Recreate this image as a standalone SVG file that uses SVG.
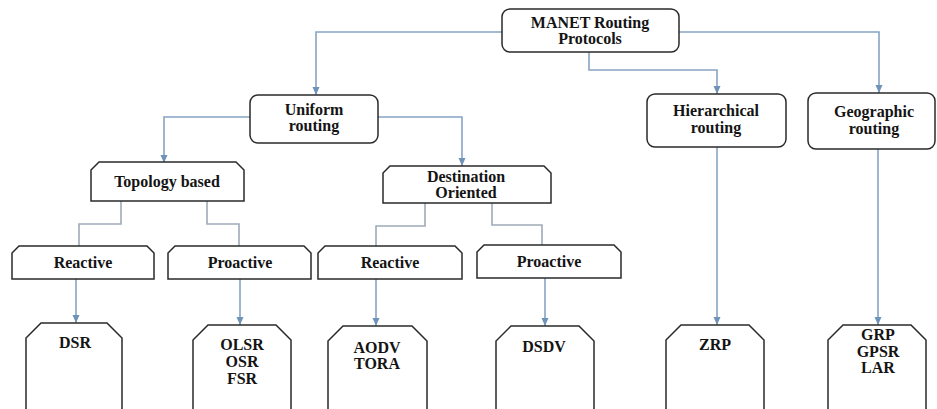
<svg xmlns="http://www.w3.org/2000/svg" width="937" height="409" viewBox="0 0 937 409">
  <defs>
    <marker id="arrow" viewBox="0 0 8 8" refX="8" refY="4" markerWidth="8" markerHeight="8" markerUnits="userSpaceOnUse" orient="auto">
      <path d="M0,0.5 L8,4 L0,7.5 Z" fill="#6f93b8"/>
    </marker>
    <style>
      .box { fill: #ffffff; stroke: #2a2a2a; stroke-width: 1.5; }
      .lbl { font-weight: bold; font-size: 16px; fill: #141414; text-anchor: middle; }
      .wire { fill: none; stroke: #86a4c4; stroke-width: 1.6; }
      .wire.arr { marker-end: url(#arrow); }
      .wire.plain { stroke: #9eabb9; }
    </style>
  </defs>
  <rect width="937" height="409" fill="#ffffff"/>

  <!-- connectors -->
  <g id="connectors">
    <path class="wire arr" d="M502,32 H316 V95"/>
    <path class="wire arr" d="M589,52 V70 H717 V94"/>
    <path class="wire arr" d="M679,32 H879 V93"/>
    <path class="wire arr" d="M250,117 H164 V163"/>
    <path class="wire arr" d="M378,117 H462 V166"/>
    <path class="wire plain" d="M121,201 V224 H79 V246"/>
    <path class="wire plain" d="M207,201 V224 H239 V246"/>
    <path class="wire plain" d="M425,203 V226 H376 V246"/>
    <path class="wire plain" d="M492,203 V225 H542 V245"/>
    <path class="wire arr" d="M76,279 V323"/>
    <path class="wire arr" d="M240,279 V325"/>
    <path class="wire arr" d="M376,279 V326"/>
    <path class="wire arr" d="M545,278 V326"/>
    <path class="wire arr" d="M717,147 V325"/>
    <path class="wire arr" d="M878,149 V325"/>
  </g>

  <g font-family="Liberation Serif, Times New Roman, serif">
  <!-- root -->
  <g id="manet">
    <rect class="box" x="502" y="9" width="177" height="43" rx="8"/>
    <text class="lbl" x="590" y="28">MANET Routing</text>
    <text class="lbl" x="590" y="44">Protocols</text>
  </g>

  <!-- second level -->
  <g id="uniform">
    <rect class="box" x="250" y="95" width="128" height="48" rx="8"/>
    <text class="lbl" x="314" y="115">Uniform</text>
    <text class="lbl" x="314" y="131">routing</text>
  </g>
  <g id="hierarchical">
    <rect class="box" x="647" y="94" width="139" height="53" rx="8"/>
    <text class="lbl" x="716" y="116">Hierarchical</text>
    <text class="lbl" x="716" y="133">routing</text>
  </g>
  <g id="geographic">
    <rect class="box" x="808" y="93" width="127" height="56" rx="8"/>
    <text class="lbl" x="874" y="117">Geographic</text>
    <text class="lbl" x="874" y="134">routing</text>
  </g>

  <!-- third level -->
  <g id="topology">
    <path class="box" d="M91,201 V170 L99,162 H236 L244,170 V201 Z"/>
    <text class="lbl" x="167" y="187">Topology based</text>
  </g>
  <g id="destination">
    <path class="box" d="M383,203 V173 L390,166 H544 L551,173 V203 Z"/>
    <text class="lbl" x="466" y="182">Destination</text>
    <text class="lbl" x="466" y="198">Oriented</text>
  </g>

  <!-- fourth level -->
  <g id="reactive-topo">
    <path class="box" d="M12,279 V253 L19,246 H147 L154,253 V279 Z"/>
    <text class="lbl" x="83" y="268">Reactive</text>
  </g>
  <g id="proactive-topo">
    <path class="box" d="M168,279 V253 L175,246 H304 L311,253 V279 Z"/>
    <text class="lbl" x="240" y="268">Proactive</text>
  </g>
  <g id="reactive-dest">
    <path class="box" d="M318,279 V253 L325,246 H455 L462,253 V279 Z"/>
    <text class="lbl" x="390" y="268">Reactive</text>
  </g>
  <g id="proactive-dest">
    <path class="box" d="M477,278 V252 L484,245 H614 L621,252 V278 Z"/>
    <text class="lbl" x="549" y="267">Proactive</text>
  </g>

  <!-- protocol leaves -->
  <g id="dsr">
    <path class="box" d="M26,415 V338 L41,323 H107 L122,338 V415"/>
    <text class="lbl" x="75" y="348">DSR</text>
  </g>
  <g id="olsr">
    <path class="box" d="M193,415 V340 L208,325 H276 L291,340 V415"/>
    <text class="lbl" x="242" y="350">OLSR</text>
    <text class="lbl" x="242" y="367">OSR</text>
    <text class="lbl" x="242" y="384">FSR</text>
  </g>
  <g id="aodv">
    <path class="box" d="M328,415 V341 L343,326 H412 L427,341 V415"/>
    <text class="lbl" x="377" y="353">AODV</text>
    <text class="lbl" x="377" y="369">TORA</text>
  </g>
  <g id="dsdv">
    <path class="box" d="M496,415 V341 L511,326 H579 L594,341 V415"/>
    <text class="lbl" x="544" y="352">DSDV</text>
  </g>
  <g id="zrp">
    <path class="box" d="M666,415 V340 L681,325 H749 L764,340 V415"/>
    <text class="lbl" x="715" y="350">ZRP</text>
  </g>
  <g id="grp">
    <path class="box" d="M828,415 V340 L843,325 H911 L926,340 V415"/>
    <text class="lbl" x="878" y="340">GRP</text>
    <text class="lbl" x="878" y="357">GPSR</text>
    <text class="lbl" x="878" y="373">LAR</text>
  </g>
  </g>
</svg>
